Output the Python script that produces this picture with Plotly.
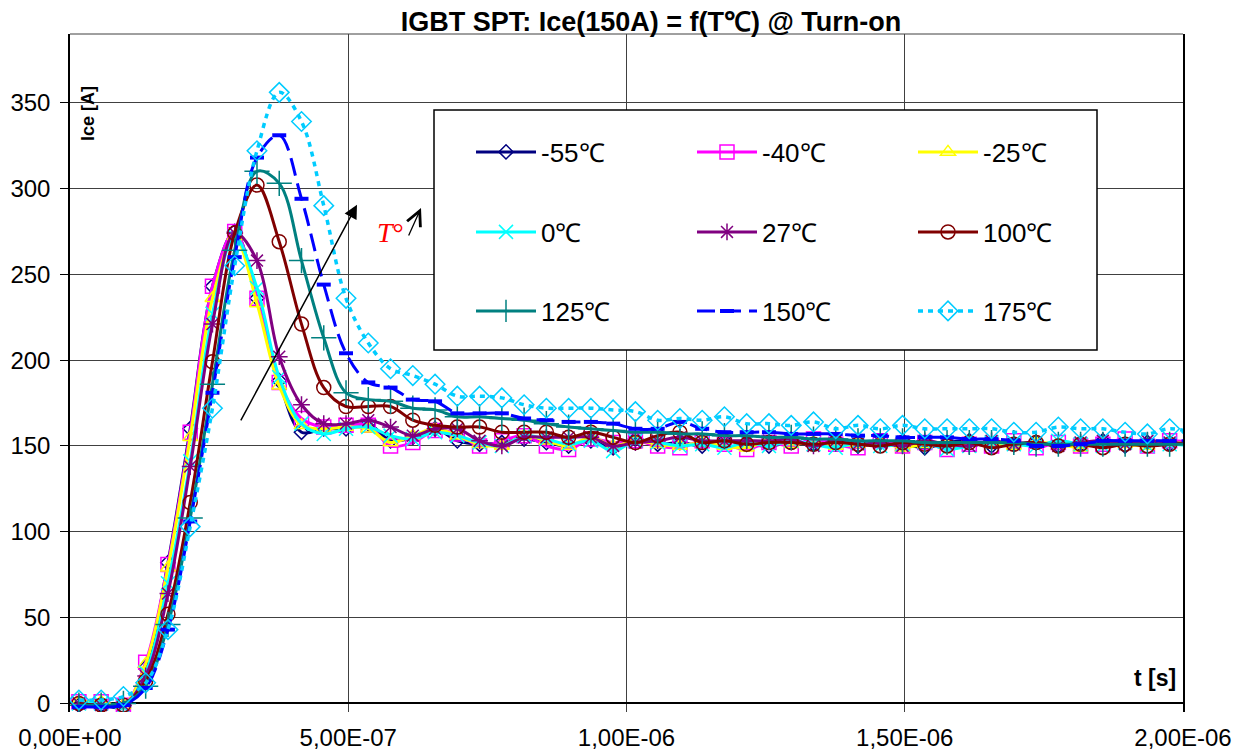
import plotly.graph_objects as go

# sample times in ns (one point every 40 ns)
t_ns = [16, 56, 96, 136, 176, 216, 256, 296, 336, 376, 416, 456, 496, 536, 576, 616,
        656, 696, 736, 776, 816, 856, 896, 936, 976, 1016, 1056, 1096, 1136, 1176,
        1216, 1256, 1296, 1336, 1376, 1416, 1456, 1496, 1536, 1576, 1616, 1656, 1696,
        1736, 1776, 1816, 1856, 1896, 1936, 1976, 2016]

ice_m55 = [-1, -1, -2, 21, 82, 160, 243, 275, 236, 188, 158, 160, 160, 163, 153, 155, 160,
           153, 151, 152, 154, 152, 150, 153, 149, 154, 151, 152, 150, 153, 151, 150, 152,
           151, 153, 150, 152, 151, 149, 152, 153, 150, 151, 152, 150, 151, 153, 150, 152,
           151, 151]
ice_m40 = [1, 1, -1, 24, 81, 158, 243, 275, 236, 187, 166, 161, 162, 162, 150, 152, 159,
           157, 150, 153, 156, 150, 148, 154, 152, 153, 150, 149, 153, 151, 148, 152, 150,
           154, 151, 149, 153, 150, 152, 148, 151, 150, 153, 149, 152, 150, 151, 154, 150,
           153, 152]
ice_m25 = [1, 1, -1, 23, 79, 155, 236, 272, 233, 185, 162, 160, 161, 160, 152, 156, 160,
           156, 151, 150, 156, 153, 150, 155, 150, 153, 151, 150, 152, 150, 149, 153, 151,
           152, 150, 151, 152, 149, 151, 150, 152, 151, 150, 152, 151, 149, 152, 151, 150,
           152, 151]
ice_0 = [0, 0, -2, 18, 70, 141, 227, 272, 242, 190, 163, 157, 160, 161, 156, 154, 158,
         156, 152, 150, 156, 154, 151, 153, 147, 153, 152, 150, 151, 149, 152, 150, 153,
         151, 149, 152, 150, 151, 152, 148, 150, 152, 151, 150, 153, 151, 150, 152, 150,
         151, 150]
ice_27 = [0, -1, -1, 16, 64, 138, 221, 274, 258, 202, 174, 163, 163, 165, 161, 156, 160,
          160, 153, 150, 155, 155, 155, 155, 150, 152, 153, 155, 153, 153, 153, 153, 154,
          150, 153, 151, 152, 150, 153, 151, 150, 153, 151, 152, 150, 152, 153, 151, 153,
          152, 151]
ice_100 = [0, -1, -1, 13, 52, 117, 199, 274, 302, 269, 221, 184, 173, 173, 173, 165, 162,
           161, 161, 158, 158, 158, 155, 158, 155, 152, 156, 158, 152, 153, 151, 152, 152,
           151, 152, 151, 150, 152, 151, 150, 152, 149, 151, 152, 150, 151, 149, 151, 150,
           151, 152]
ice_125 = [-1, -1, 0, 10, 46, 108, 186, 264, 310, 303, 258, 213, 181, 177, 176, 172, 171,
           167, 167, 166, 165, 163, 161, 160, 159, 158, 158, 157, 157, 156, 156, 155, 155,
           154, 154, 153, 153, 153, 152, 152, 152, 152, 152, 151, 151, 151, 151, 151, 151,
           151, 151]
ice_150 = [-2, -2, -1, 9, 43, 106, 181, 260, 318, 331, 294, 244, 204, 187, 184, 177, 176,
           169, 169, 169, 166, 165, 164, 164, 163, 160, 160, 164, 160, 158, 158, 158, 157,
           157, 157, 156, 156, 155, 155, 155, 154, 154, 153, 150, 150, 151, 153, 153, 153,
           153, 153]
ice_175 = [2, 2, 4, 12, 43, 103, 172, 255, 322, 356, 339, 290, 236, 210, 195, 191, 186,
           179, 179, 178, 174, 172, 172, 172, 171, 170, 165, 166, 165, 167, 163, 163, 162,
           164, 160, 162, 160, 162, 160, 160, 160, 160, 158, 158, 161, 160, 160, 158, 157,
           160, 158]

names = ["-55℃", "-40℃", "-25℃", "0℃", "27℃", "100℃", "125℃", "150℃", "175℃"]
series = [ice_m55, ice_m40, ice_m25, ice_0, ice_27, ice_100, ice_125, ice_150, ice_175]
colors = ["#000080", "#FF00FF", "#FFFF00", "#00FFFF", "#800080", "#800000", "#008080",
          "#0000FF", "#00CCFF"]
symbols = ["diamond-open", "square-open", "triangle-up-open", "x-thin-open", "asterisk-open",
           "circle-open", "cross-thin-open", "line-ew-open", "diamond-open"]
sizes = [11, 14, 13, 14, 14, 14, 18, 10, 15]
dashes = ["solid"] * 7 + ["18px,8px", "5px,5px"]

t = [v * 1e-9 for v in t_ns]

# the page body adds an 8px margin, so the figure is shrunk by that much
OFF = 8
W, H = 1244 - OFF, 752 - OFF
# plot area in screen px: x 70..1183, y 34..712
L, R, T, B = 70 - OFF, 1244 - 1183, 34 - OFF, 752 - 712
PW, PH = 1183 - 70, 712 - 34


def px_x(p):
    return (p - 70) / PW


def px_y(p):
    return (712 - p) / PH


fig = go.Figure()
col_x = [474, 695, 916]
row_y = [152, 232, 311]
for i, (name, ys) in enumerate(zip(names, series)):
    leg = "legend" if i == 0 else "legend%d" % (i + 1)
    fig.add_trace(
        go.Scatter(
            x=t,
            y=ys,
            name=name,
            mode="lines+markers",
            line=dict(color=colors[i], width=3 if i != 8 else 3.5, dash=dashes[i],
                      shape="spline", smoothing=1),
            marker=dict(symbol=symbols[i], size=sizes[i], color=colors[i],
                        line=dict(color=colors[i], width=1.5 if i != 7 else 4)),
            legend=leg,
            showlegend=True,
        )
    )
    fig.update_layout(
        {
            leg: dict(
                x=px_x(col_x[i % 3] - 3),
                y=px_y(row_y[i // 3]),
                xanchor="left",
                yanchor="middle",
                bgcolor="rgba(0,0,0,0)",
                borderwidth=0,
                itemwidth=60,
                font=dict(size=26, color="black"),
            )
        }
    )

fig.update_xaxes(
    range=[0, 2e-6],
    tickvals=[0, 5e-7, 1e-6, 1.5e-6, 2e-6],
    ticktext=["0,00E+00", "5,00E-07", "1,00E-06", "1,50E-06", "2,00E-06"],
    showgrid=True,
    gridcolor="#404040",
    gridwidth=1,
    zeroline=False,
    showline=False,
    ticks="",
    ticklabelstandoff=9,
)
fig.update_yaxes(
    range=[-5, 390],
    tickvals=[0, 50, 100, 150, 200, 250, 300, 350],
    showgrid=True,
    gridcolor="#404040",
    gridwidth=1,
    zeroline=True,
    zerolinecolor="black",
    zerolinewidth=1.5,
    showline=True,
    mirror=True,
    linecolor="black",
    linewidth=1.5,
    ticks="outside",
    ticklen=8,
    tickcolor="black",
    ticklabelstandoff=5,
)

fig.add_shape(type="line", xref="paper", yref="paper", x0=0, x1=1, y0=1, y1=1,
              line=dict(color="#404040", width=1))
fig.add_shape(type="rect", xref="paper", yref="paper", layer="above",
              x0=px_x(434), x1=px_x(1097), y0=px_y(350), y1=px_y(110),
              fillcolor="white", line=dict(color="black", width=1.5))

fig.add_annotation(x=px_x(88), y=px_y(114), xref="paper", yref="paper", text="<b>Ice [A]</b>",
                   textangle=-90, showarrow=False, xanchor="center", yanchor="middle",
                   font=dict(size=18, color="black"))
fig.add_annotation(x=px_x(1155), y=px_y(678), xref="paper", yref="paper", text="<b>t [s]</b>",
                   showarrow=False, xanchor="center", yanchor="middle",
                   font=dict(size=23, color="black"))

# temperature arrow
fig.add_annotation(x=5.157e-7, y=290.5, ax=3.055e-7, ay=164, xref="x", yref="y",
                   axref="x", ayref="y", text="", showarrow=True, arrowhead=2,
                   arrowsize=1.8, arrowwidth=1.5, arrowcolor="black")
fig.add_annotation(x=px_x(390), y=px_y(232), xref="paper", yref="paper", text="<i>T</i>°",
                   showarrow=False, xanchor="center", yanchor="middle",
                   font=dict(size=28, color="red", family="Liberation Serif"))
fig.add_annotation(x=px_x(421), y=px_y(208), xref="paper", yref="paper", text="",
                   showarrow=True, ax=-13, ay=29, arrowhead=5, arrowsize=2.2,
                   arrowwidth=1.3, arrowcolor="black")

fig.update_layout(
    width=W,
    height=H,
    showlegend=True,
    margin=dict(l=L, r=R, t=T, b=B, autoexpand=False),
    paper_bgcolor="white",
    plot_bgcolor="white",
    font=dict(family="Liberation Sans, Arial, sans-serif", size=24, color="black"),
    title=dict(text="<b>IGBT SPT: Ice(150A) = f(T℃) @ Turn-on</b>", x=(651 - OFF) / W,
               y=1 - (22 - OFF) / H, xanchor="center", yanchor="middle",
               font=dict(size=27, color="black")),
)
fig.write_html("out.html")
